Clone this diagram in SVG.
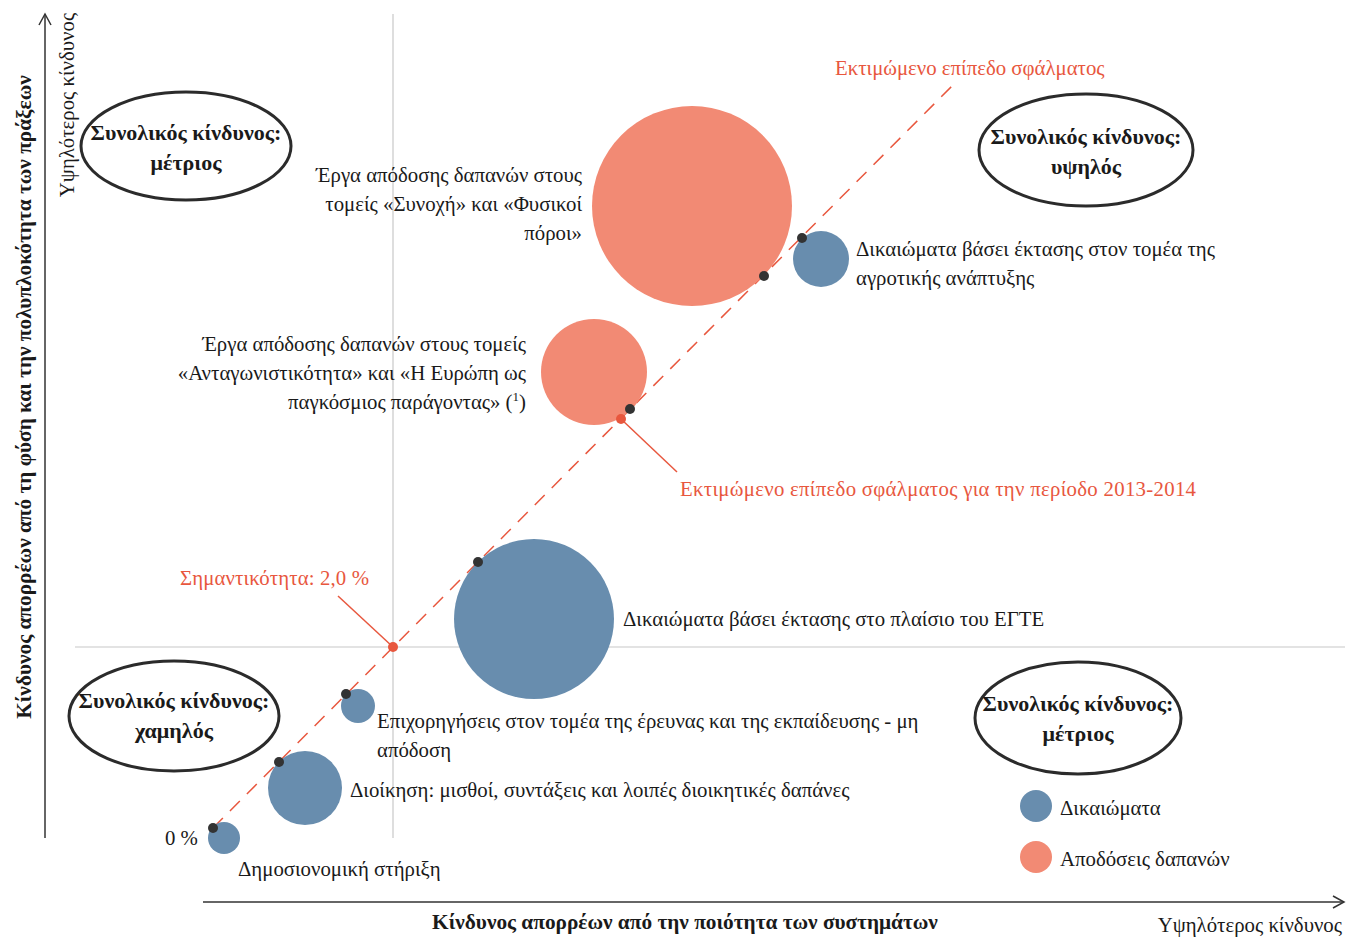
<svg xmlns="http://www.w3.org/2000/svg" width="1356" height="940" viewBox="0 0 1356 940">
<style>
text{font-family:"Liberation Serif","DejaVu Serif",serif;fill:#1a1a1a;font-size:20.8px}
.b{font-weight:bold}
.eb{font-weight:bold;font-size:22px}
.ax{font-weight:bold;font-size:21.3px}
.red{fill:#E8573E}
.o{fill:#F28A74}
.bl{fill:#688DAE}
.dot{fill:#333333}
.rdot{fill:#E8573E}
.ell{fill:#ffffff;stroke:#2b2b2b;stroke-width:3}
.axis{stroke:#333;stroke-width:1.5;fill:none}
.grid{stroke:#c8c8c8;stroke-width:1.2}
</style>
<rect width="1356" height="940" fill="#ffffff"/>
<g id="grid">
<line class="grid" x1="393" y1="14" x2="393" y2="838"/>
<line class="grid" x1="75" y1="647" x2="1345" y2="647"/>
</g>
<g id="axes">
<line class="axis" x1="45" y1="14" x2="45" y2="838"/>
<polyline class="axis" points="39,25 45,14 51,25"/>
<line class="axis" x1="203" y1="902" x2="1344" y2="902"/>
<polyline class="axis" points="1333,896 1344,902 1333,908"/>
<text class="ax" transform="translate(31,397) rotate(-90)" text-anchor="middle">Κίνδυνος απορρέων από τη φύση και την πολυπλοκότητα των πράξεων</text>
<text transform="translate(74,105) rotate(-90)" text-anchor="middle" font-size="21.5">Υψηλότερος κίνδυνος</text>
<text class="ax" x="685" y="929" text-anchor="middle">Κίνδυνος απορρέων από την ποιότητα των συστημάτων</text>
<text x="1342" y="932" text-anchor="end" font-size="21.2">Υψηλότερος κίνδυνος</text>
</g>
<g id="connectors">
<line x1="213" y1="828" x2="958" y2="80" stroke="#E8573E" stroke-width="1.5" stroke-dasharray="14,10"/>
<line x1="338" y1="596" x2="393" y2="647" stroke="#E8573E" stroke-width="1.5"/>
<line x1="621" y1="419" x2="677" y2="472" stroke="#E8573E" stroke-width="1.5"/>
</g>
<g id="bubble-cohesion"><circle class="o" cx="692" cy="206" r="100"/></g>
<g id="bubble-rural"><circle class="bl" cx="821" cy="259" r="28"/></g>
<g id="bubble-competitiveness"><circle class="o" cx="594" cy="372" r="53"/></g>
<g id="bubble-eagf"><circle class="bl" cx="534" cy="619" r="80"/></g>
<g id="bubble-research"><circle class="bl" cx="358" cy="706" r="17"/></g>
<g id="bubble-admin"><circle class="bl" cx="305" cy="788" r="37"/></g>
<g id="bubble-budget"><circle class="bl" cx="224" cy="838" r="16"/></g>
<g id="points">
<circle class="dot" cx="802" cy="238" r="5"/>
<circle class="dot" cx="764" cy="276" r="5"/>
<circle class="dot" cx="630" cy="409" r="5"/>
<circle class="dot" cx="478" cy="562" r="5"/>
<circle class="dot" cx="346" cy="694" r="5"/>
<circle class="dot" cx="279" cy="762" r="5"/>
<circle class="dot" cx="213" cy="828" r="5"/>
<circle class="rdot" cx="393" cy="647" r="5"/>
<circle class="rdot" cx="621" cy="419" r="5"/>
</g>
<g id="risk-medium-top">
<ellipse class="ell" cx="186" cy="146" rx="105" ry="54"/>
<text class="eb" x="186" y="140" text-anchor="middle">Συνολικός κίνδυνος:</text>
<text class="eb" x="186" y="170" text-anchor="middle">μέτριος</text>
</g>
<g id="risk-high">
<ellipse class="ell" cx="1086" cy="150" rx="107" ry="56"/>
<text class="eb" x="1086" y="144" text-anchor="middle">Συνολικός κίνδυνος:</text>
<text class="eb" x="1086" y="174" text-anchor="middle">υψηλός</text>
</g>
<g id="risk-low">
<ellipse class="ell" cx="174" cy="716" rx="105" ry="55"/>
<text class="eb" x="174" y="708" text-anchor="middle">Συνολικός κίνδυνος:</text>
<text class="eb" x="174" y="738" text-anchor="middle">χαμηλός</text>
</g>
<g id="risk-medium-bottom">
<ellipse class="ell" cx="1078" cy="718" rx="103" ry="56"/>
<text class="eb" x="1078" y="711" text-anchor="middle">Συνολικός κίνδυνος:</text>
<text class="eb" x="1078" y="741" text-anchor="middle">μέτριος</text>
</g>
<g id="labels">
<text x="582" y="182" text-anchor="end">Έργα απόδοσης δαπανών στους</text>
<text x="582" y="211" text-anchor="end">τομείς «Συνοχή» και «Φυσικοί</text>
<text x="582" y="240" text-anchor="end">πόροι»</text>
<text x="856" y="256">Δικαιώματα βάσει έκτασης στον τομέα της</text>
<text x="856" y="285">αγροτικής ανάπτυξης</text>
<text x="526" y="351" text-anchor="end">Έργα απόδοσης δαπανών στους τομείς</text>
<text x="526" y="380" text-anchor="end">«Ανταγωνιστικότητα» και «Η Ευρώπη ως</text>
<text x="526" y="409" text-anchor="end">παγκόσμιος παράγοντας» (<tspan font-size="13" dy="-8">1</tspan><tspan dy="8">)</tspan></text>
<text x="623" y="626">Δικαιώματα βάσει έκτασης στο πλαίσιο του ΕΓΤΕ</text>
<text x="377" y="728">Επιχορηγήσεις στον τομέα της έρευνας και της εκπαίδευσης - μη</text>
<text x="377" y="757">απόδοση</text>
<text x="350" y="797">Διοίκηση: μισθοί, συντάξεις και λοιπές διοικητικές δαπάνες</text>
<text x="165" y="845">0 %</text>
<text x="238" y="876">Δημοσιονομική στήριξη</text>
<text class="red" x="180" y="585" textLength="189">Σημαντικότητα: 2,0 %</text>
<text class="red" x="680" y="496" textLength="516">Εκτιμώμενο επίπεδο σφάλματος για την περίοδο 2013-2014</text>
<text class="red" x="835" y="75">Εκτιμώμενο επίπεδο σφάλματος</text>
</g>
<g id="legend">
<circle class="bl" cx="1036" cy="806" r="16"/>
<text x="1060" y="815">Δικαιώματα</text>
<circle class="o" cx="1036" cy="857" r="16"/>
<text x="1060" y="866">Αποδόσεις δαπανών</text>
</g>
</svg>
